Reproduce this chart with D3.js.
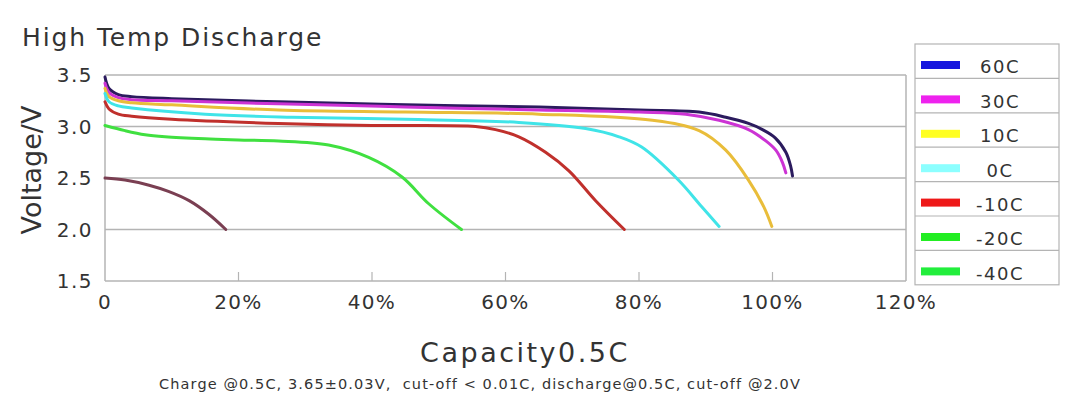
<!DOCTYPE html>
<html lang="en">
<head>
<meta charset="UTF-8">
<title>High Temp Discharge</title>
<style>
  body { margin: 0; background: #fff; }
  text { font-family: "DejaVu Sans", sans-serif; fill: #333; }
</style>
</head>
<body>
<div id="chart"></div>
<script src="https://d3js.org/d3.v7.min.js"></script>
<script>
// series names, legend colours and curve colours
const seriesNames = ["60C", "30C", "10C", "0C", "-10C", "-20C", "-40C"];
const legendColors = ["#1616de", "#ee22ee", "#ffff22", "#8cffff", "#ee1818", "#22ee22", "#22ee3c"];
const lineColors = ["#2b1b5e", "#cc33d4", "#e9bd3a", "#40e4e8", "#c0302c", "#40e040", "#7a3f52"];

// [capacity %, voltage V]
const d60 = [[0, 3.48], [0.6, 3.37], [2, 3.31], [4, 3.29], [10, 3.27], [26, 3.24], [45, 3.21], [65, 3.19], [80, 3.16], [89, 3.14], [93, 3.09], [96.4, 3.03], [98.5, 2.97], [100.4, 2.89], [102, 2.75], [102.7, 2.62], [103, 2.52]];
const d30 = [[0, 3.42], [0.6, 3.33], [2, 3.28], [4, 3.26], [10, 3.25], [26, 3.22], [45, 3.19], [65, 3.16], [80, 3.14], [87, 3.12], [92, 3.06], [96.4, 2.97], [99, 2.86], [100.5, 2.77], [101.5, 2.65], [102, 2.55]];
const d10 = [[0, 3.37], [0.6, 3.29], [2, 3.25], [4, 3.23], [10, 3.21], [26, 3.16], [45, 3.14], [65, 3.12], [82, 3.06], [89, 2.96], [93, 2.77], [96.4, 2.48], [98.7, 2.22], [99.9, 2.03]];
const d0 = [[0, 3.32], [0.6, 3.24], [2, 3.2], [4, 3.18], [15, 3.12], [28, 3.09], [45, 3.07], [62, 3.04], [72, 2.98], [77, 2.9], [80.4, 2.8], [85.9, 2.48], [89.4, 2.22], [92, 2.03]];
const dm10 = [[0, 3.24], [0.6, 3.17], [2, 3.12], [4, 3.1], [10, 3.07], [26, 3.03], [40, 3.01], [55.5, 3.0], [58.5, 2.97], [62, 2.9], [66, 2.75], [69.5, 2.57], [73.5, 2.28], [77.8, 2.0]];
const dm20 = [[0, 3.01], [3, 2.96], [6, 2.92], [9, 2.9], [15, 2.88], [20, 2.87], [26, 2.86], [33.5, 2.82], [39.5, 2.7], [44.5, 2.51], [48.5, 2.25], [53.4, 2.0]];
const dm40 = [[0, 2.5], [3, 2.48], [6.6, 2.43], [9.5, 2.37], [12.6, 2.28], [15.5, 2.15], [18.1, 2.0]];
const seriesData = [d60, d30, d10, d0, dm10, dm20, dm40];

// axis ticks
const xTicks = [0, 20, 40, 60, 80, 100, 120];
const yTicks = [1.5, 2.0, 2.5, 3.0, 3.5];

const W = 1076, H = 399;
const plot = {left: 105, right: 906, top: 75, bottom: 281};

const svg = d3.select("#chart").append("svg")
    .attr("width", W)
    .attr("height", H);

const x = d3.scaleLinear().domain([0, 120]).range([plot.left, plot.right]);
const y = d3.scaleLinear().domain([1.5, 3.5]).range([plot.bottom, plot.top]);

// horizontal grid lines
svg.append("g").selectAll("line")
    .data(yTicks)
    .join("line")
    .attr("x1", plot.left).attr("x2", plot.right)
    .attr("y1", d => y(d)).attr("y2", d => y(d))
    .attr("stroke", "#b4b4b4").attr("stroke-width", 1.5);

// left and right frame lines
svg.append("line")
    .attr("x1", plot.left).attr("x2", plot.left)
    .attr("y1", plot.top).attr("y2", plot.bottom)
    .attr("stroke", "#b4b4b4").attr("stroke-width", 1.5);
svg.append("line")
    .attr("x1", plot.right).attr("x2", plot.right)
    .attr("y1", plot.top).attr("y2", plot.bottom)
    .attr("stroke", "#b4b4b4").attr("stroke-width", 1.5);

// small x ticks pointing up
svg.append("g").selectAll("line")
    .data(xTicks.slice(1, -1))
    .join("line")
    .attr("x1", d => x(d)).attr("x2", d => x(d))
    .attr("y1", plot.bottom).attr("y2", plot.bottom - 9)
    .attr("stroke", "#b4b4b4").attr("stroke-width", 1.2);

// y tick labels
svg.append("g").selectAll("text")
    .data(yTicks)
    .join("text")
    .attr("x", 93)
    .attr("y", d => y(d))
    .attr("dy", "0.36em")
    .attr("text-anchor", "end")
    .style("font-size", "20px")
    .style("letter-spacing", "1.5px")
    .text(d => d.toFixed(1));

// x tick labels
svg.append("g").selectAll("text")
    .data(xTicks)
    .join("text")
    .attr("x", d => x(d))
    .attr("y", 309)
    .attr("text-anchor", "middle")
    .style("font-size", "20px")
    .style("letter-spacing", "1.3px")
    .text(d => d === 0 ? "0" : d + "%");

// curves
const line = d3.line()
    .x(d => x(d[0]))
    .y(d => y(d[1]))
    .curve(d3.curveCatmullRom.alpha(0.5));

svg.append("g").selectAll("path")
    .data(seriesData)
    .join("path")
    .attr("d", line)
    .attr("fill", "none")
    .attr("stroke", (d, i) => lineColors[i])
    .attr("stroke-width", 3)
    .attr("stroke-linecap", "round");

// titles
svg.append("text")
    .attr("x", 22).attr("y", 46)
    .style("font-size", "25px")
    .style("letter-spacing", "1.9px")
    .text("High Temp Discharge");

svg.append("text")
    .attr("transform", "translate(41,170) rotate(-90)")
    .attr("text-anchor", "middle")
    .style("font-size", "27px")
    .text("Voltage/V");

svg.append("text")
    .attr("x", 525).attr("y", 362)
    .attr("text-anchor", "middle")
    .style("font-size", "27px")
    .style("letter-spacing", "2.5px")
    .text("Capacity0.5C");

svg.append("text")
    .attr("x", 480).attr("y", 389)
    .attr("text-anchor", "middle")
    .style("font-size", "14.5px")
    .style("letter-spacing", "1.1px")
    .style("white-space", "pre")
    .text("Charge @0.5C, 3.65\u00B10.03V,  cut-off < 0.01C, discharge@0.5C, cut-off @2.0V");

// legend box
const leg = {left: 915, right: 1059, top: 44, rowH: 34.4};
const legend = svg.append("g");
legend.append("rect")
    .attr("x", leg.left).attr("y", leg.top)
    .attr("width", leg.right - leg.left)
    .attr("height", leg.rowH * seriesNames.length)
    .attr("fill", "none")
    .attr("stroke", "#b4b4b4").attr("stroke-width", 1.2);

const rows = legend.selectAll("g")
    .data(seriesNames)
    .join("g")
    .attr("transform", (d, i) => "translate(0," + (leg.top + i * leg.rowH) + ")");

rows.filter((d, i) => i > 0).append("line")
    .attr("x1", leg.left).attr("x2", leg.right)
    .attr("y1", 0).attr("y2", 0)
    .attr("stroke", "#b4b4b4").attr("stroke-width", 1.2);

rows.append("rect")
    .attr("x", 921).attr("y", 17)
    .attr("width", 39).attr("height", 8)
    .attr("fill", (d, i) => legendColors[i]);

rows.append("text")
    .attr("x", 1000).attr("y", 23)
    .attr("dy", "0.36em")
    .attr("text-anchor", "middle")
    .style("font-size", "18px")
    .style("letter-spacing", "1.5px")
    .text(d => d);
</script>
</body>
</html>
